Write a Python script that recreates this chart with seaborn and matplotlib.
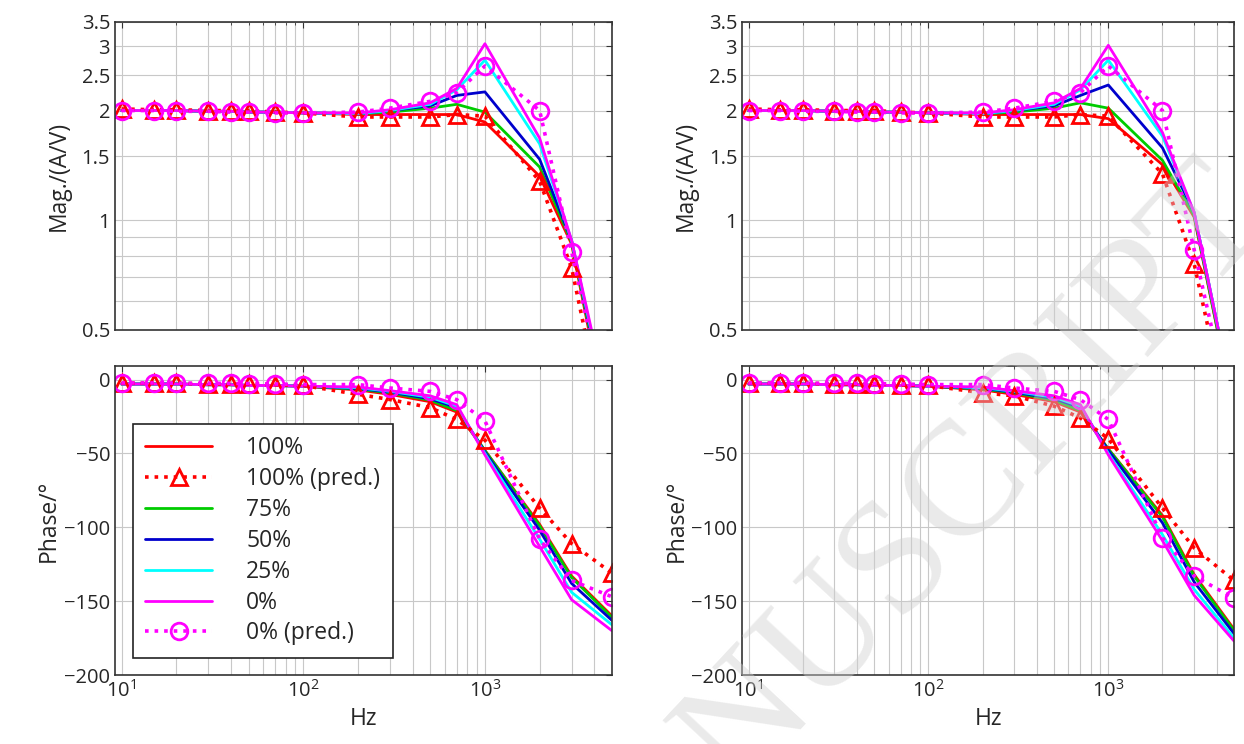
import numpy as np
import pandas as pd
import seaborn as sns
import matplotlib.pyplot as plt
from matplotlib.ticker import FixedLocator, NullFormatter, LogLocator, LogFormatterSciNotation

# frequencies of the measurement / prediction points
freq = [10, 15, 20, 30, 40, 50, 70, 100, 200, 300, 500, 700, 1000, 2000, 3000, 5000]

# left column, magnitude (A/V)
mag_l_100 = [2.00, 2.00, 2.00, 1.99, 1.99, 1.98, 1.98, 1.97, 1.95, 1.95, 1.95, 1.95, 1.86, 1.32, 0.86, 0.24]
mag_l_75 = [2.00, 2.00, 2.00, 1.99, 1.99, 1.98, 1.98, 1.97, 1.96, 1.98, 2.03, 2.08, 1.98, 1.40, 0.87, 0.25]
mag_l_50 = [2.00, 2.00, 2.00, 1.99, 1.99, 1.98, 1.98, 1.97, 1.96, 2.00, 2.06, 2.20, 2.25, 1.47, 0.88, 0.26]
mag_l_25 = [2.00, 2.00, 2.00, 1.99, 1.99, 1.98, 1.98, 1.97, 1.96, 2.00, 2.08, 2.28, 2.75, 1.62, 0.88, 0.27]
mag_l_0 = [2.00, 2.00, 2.00, 1.99, 1.99, 1.98, 1.98, 1.97, 1.97, 2.01, 2.10, 2.30, 3.05, 1.68, 0.88, 0.28]
mag_l_100p = [2.02, 2.01, 2.01, 2.00, 2.00, 2.00, 1.98, 1.97, 1.92, 1.92, 1.92, 1.95, 1.93, 1.28, 0.74, 0.22]
mag_l_0p = [2.00, 2.00, 1.99, 1.99, 1.98, 1.98, 1.97, 1.97, 1.98, 2.03, 2.12, 2.24, 2.65, 2.00, 0.82, 0.26]

# right column, magnitude (A/V)
mag_r_100 = [2.00, 2.00, 2.00, 1.99, 1.99, 1.98, 1.98, 1.97, 1.95, 1.95, 1.95, 1.95, 1.90, 1.42, 1.02, 0.30]
mag_r_75 = [2.00, 2.00, 2.00, 1.99, 1.99, 1.98, 1.98, 1.97, 1.96, 1.98, 2.03, 2.10, 2.03, 1.46, 1.03, 0.30]
mag_r_50 = [2.00, 2.00, 2.00, 1.99, 1.99, 1.98, 1.98, 1.97, 1.96, 2.00, 2.06, 2.20, 2.35, 1.58, 1.05, 0.31]
mag_r_25 = [2.00, 2.00, 2.00, 1.99, 1.99, 1.98, 1.98, 1.97, 1.96, 2.00, 2.08, 2.28, 2.75, 1.70, 1.05, 0.31]
mag_r_0 = [2.00, 2.00, 2.00, 1.99, 1.99, 1.98, 1.98, 1.97, 1.97, 2.01, 2.10, 2.30, 3.02, 1.74, 1.05, 0.31]
mag_r_100p = [2.02, 2.01, 2.01, 2.00, 2.00, 2.00, 1.98, 1.97, 1.92, 1.92, 1.92, 1.95, 1.93, 1.34, 0.76, 0.24]
mag_r_0p = [2.00, 2.00, 1.99, 1.99, 1.98, 1.98, 1.97, 1.97, 1.98, 2.03, 2.12, 2.24, 2.65, 2.00, 0.83, 0.27]

# left column, phase (deg)
ph_l_100 = [-3, -3, -3, -3.5, -3.5, -4, -4, -4.5, -7, -10, -15, -22, -48, -98, -133, -160]
ph_l_75 = [-3, -3, -3, -3.5, -3.5, -4, -4, -4.5, -6.5, -9, -14, -21, -48, -99, -134, -161]
ph_l_50 = [-3, -3, -3, -3.5, -3.5, -4, -4, -4.5, -6, -8.5, -13, -19, -49, -102, -138, -163]
ph_l_25 = [-3, -3, -3, -3.5, -3.5, -4, -4, -4.5, -5.5, -8, -12, -18, -50, -108, -144, -166]
ph_l_0 = [-3, -3, -3, -3.5, -3.5, -4, -4, -4.5, -5, -7.5, -11, -17, -51, -113, -149, -170]
ph_l_100p = [-2.5, -2.5, -2.5, -3, -3, -3, -3.5, -4, -10, -13.5, -19, -27, -41, -87, -111, -131]
ph_l_0p = [-2.3, -2.3, -2.5, -2.5, -2.6, -2.7, -3, -3.4, -3.4, -5.7, -8, -13.6, -28, -108, -136, -147]

# right column, phase (deg)
ph_r_100 = [-3, -3, -3, -3.5, -3.5, -4, -4, -4.5, -7, -10, -15, -22, -47, -92, -132, -169]
ph_r_75 = [-3, -3, -3, -3.5, -3.5, -4, -4, -4.5, -6.5, -9, -14, -21, -47, -93, -133, -170]
ph_r_50 = [-3, -3, -3, -3.5, -3.5, -4, -4, -4.5, -6, -8.5, -13, -19, -48, -97, -137, -172]
ph_r_25 = [-3, -3, -3, -3.5, -3.5, -4, -4, -4.5, -5.5, -8, -12, -18, -50, -105, -142, -175]
ph_r_0 = [-3, -3, -3, -3.5, -3.5, -4, -4, -4.5, -5, -7.5, -11, -17, -51, -109, -146, -177]
ph_r_100p = [-2.5, -2.5, -2.5, -3, -3, -3, -3.5, -4, -9, -11, -18, -26, -40, -87, -114, -136]
ph_r_0p = [-2.3, -2.3, -2.5, -2.5, -2.6, -2.7, -3, -3.4, -3.4, -5.7, -8, -13.6, -27, -107, -133, -148]

labels = ['100%', '100% (pred.)', '75%', '50%', '25%', '0%', '0% (pred.)']
colors = ['#ff0000', '#ff0000', '#00cc00', '#0000cc', '#00ffff', '#ff00ff', '#ff00ff']

sns.set_style('white')
plt.rcParams['font.family'] = ['Open Sans', 'DejaVu Sans']
plt.rcParams['axes.unicode_minus'] = True

fig = plt.figure(figsize=(12.44, 7.44), dpi=100)
ax_ml = fig.add_axes([0.0924, 0.5565, 0.3995, 0.414])
ax_pl = fig.add_axes([0.0924, 0.0927, 0.3995, 0.415])
ax_mr = fig.add_axes([0.5965, 0.5565, 0.3955, 0.414])
ax_pr = fig.add_axes([0.5965, 0.0927, 0.3955, 0.415])


def draw(ax, series, with_labels=False):
    # solid measured curves first, predictions on top
    order = [0, 2, 3, 4, 5, 1, 6]
    for i in order:
        kw = dict(color=colors[i], linewidth=2.0)
        if i in (1, 6):
            kw.update(linestyle=':', marker='^' if i == 1 else 'o', markersize=12,
                      markerfacecolor='none', markeredgecolor=colors[i],
                      markeredgewidth=2.0, linewidth=2.6)
        else:
            kw.update(linestyle='-')
        sns.lineplot(x=freq, y=series[i], ax=ax, label=labels[i] if with_labels else None,
                     legend=False, **kw)


draw(ax_ml, [mag_l_100, mag_l_100p, mag_l_75, mag_l_50, mag_l_25, mag_l_0, mag_l_0p])
draw(ax_mr, [mag_r_100, mag_r_100p, mag_r_75, mag_r_50, mag_r_25, mag_r_0, mag_r_0p])
draw(ax_pl, [ph_l_100, ph_l_100p, ph_l_75, ph_l_50, ph_l_25, ph_l_0, ph_l_0p], with_labels=True)
draw(ax_pr, [ph_r_100, ph_r_100p, ph_r_75, ph_r_50, ph_r_25, ph_r_0, ph_r_0p])

for ax in [ax_ml, ax_pl, ax_mr, ax_pr]:
    ax.set_facecolor('white')
    ax.set_xscale('log')
    ax.set_xlim(9.2, 5000)
    ax.xaxis.set_major_locator(LogLocator(base=10))
    ax.xaxis.set_minor_locator(LogLocator(base=10, subs=np.arange(2, 10)))
    ax.xaxis.set_minor_formatter(NullFormatter())
    ax.grid(True, which='both', axis='x', color='#c8c8c8', linewidth=0.8)
    ax.grid(True, which='major', axis='y', color='#c8c8c8', linewidth=0.8)
    ax.tick_params(which='both', direction='in', top=True, right=True, labelsize=14.5,
                   length=4, color='#333333')
    ax.tick_params(which='minor', length=2.5)
    for s in ax.spines.values():
        s.set_color('#333333')
        s.set_linewidth(1.2)
    ax.set_axisbelow(True)

for ax in [ax_ml, ax_mr]:
    ax.set_yscale('log')
    ax.set_ylim(0.5, 3.5)
    ax.yaxis.set_major_locator(FixedLocator([0.5, 1, 1.5, 2, 2.5, 3, 3.5]))
    ax.set_yticklabels(['0.5', '1', '1.5', '2', '2.5', '3', '3.5'])
    ax.yaxis.set_minor_locator(FixedLocator([0.6, 0.7, 0.8, 0.9]))
    ax.yaxis.set_minor_formatter(NullFormatter())
    ax.grid(True, which='minor', axis='y', color='#c8c8c8', linewidth=0.8)
    ax.set_xticklabels([])
    ax.set_xlabel('')
    ax.set_ylabel('Mag./(A/V)', fontsize=16.5, labelpad=8)

for ax in [ax_pl, ax_pr]:
    ax.set_ylim(-200, 9)
    ax.set_yticks([-200, -150, -100, -50, 0])
    ax.xaxis.set_major_formatter(LogFormatterSciNotation())
    ax.set_xlabel('Hz', fontsize=16.5, labelpad=4)
    ax.set_ylabel('Phase/°', fontsize=16.5, labelpad=2)

handles, hl = ax_pl.get_legend_handles_labels()
by_label = dict(zip(hl, handles))
leg = ax_pl.legend([by_label[l] for l in labels], labels,
                   loc='lower left', bbox_to_anchor=(0.036, 0.055), borderaxespad=0,
                   fontsize=16.5, handlelength=2.9, labelspacing=0.3, handletextpad=1.5,
                   borderpad=0.55, fancybox=False, framealpha=1, edgecolor='#222222')
leg.get_frame().set_linewidth(1.2)

# watermark of the manuscript page
fig.text(1.024, 0.701, 'ACCEPTED MANUSCRIPT', rotation=47, rotation_mode='anchor',
         ha='right', va='baseline', fontsize=117, family='Liberation Serif',
         color='#d0d0d0', alpha=0.45, zorder=10)

fig.savefig('out.png', dpi=100)
